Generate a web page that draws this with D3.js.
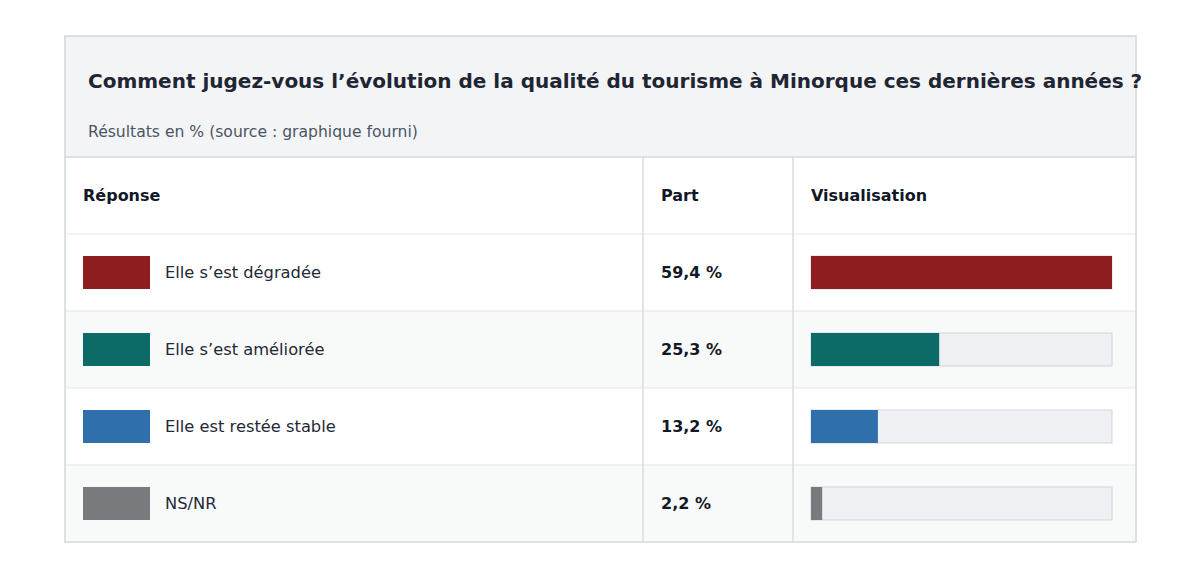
<!DOCTYPE html>
<html lang="fr">
<head>
<meta charset="UTF-8">
<title>Qualité du tourisme à Minorque</title>
<script src="https://cdnjs.cloudflare.com/ajax/libs/d3/7.8.5/d3.min.js"></script>
<style>
    html, body { margin: 0; padding: 0; background: #ffffff; }
    svg { display: block; font-family: "DejaVu Sans", sans-serif; }
</style>
</head>
<body>
<svg id="chart" width="1200" height="578"></svg>
<script>
    const title = "Comment jugez-vous l\u2019évolution de la qualité du tourisme à Minorque ces dernières années ?";
    const subtitle = "Résultats en % (source : graphique fourni)";
    const headers = ["Réponse", "Part", "Visualisation"];
    const answers = ["Elle s\u2019est dégradée", "Elle s\u2019est améliorée", "Elle est restée stable", "NS/NR"];
    const shares = [59.4, 25.3, 13.2, 2.2];
    const colors = ["#8e1d20", "#0c6b67", "#2f6fac", "#797a7e"];

    const svg = d3.select("#chart");
    const box = { x0: 65, x1: 1136, y0: 36, headEnd: 157, y1: 542 };
    const cols = [65, 643, 793, 1136];
    const fmt = v => v.toFixed(1).replace(".", ",") + " %";

    // rows: header row + one per answer
    const y = d3.scaleBand()
        .domain(d3.range(answers.length + 1))
        .range([box.headEnd, box.y1]);

    // bar length scale, longest bar fills the track
    const x = d3.scaleLinear()
        .domain([0, d3.max(shares)])
        .range([0, 301]);

    // header band
    svg.append("rect")
        .attr("x", box.x0).attr("y", box.y0)
        .attr("width", box.x1 - box.x0).attr("height", box.headEnd - box.y0)
        .attr("fill", "#f3f4f6");

    // row backgrounds
    svg.selectAll("rect.rowbg")
        .data(d3.range(answers.length + 1))
        .enter().append("rect")
        .attr("class", "rowbg")
        .attr("x", box.x0).attr("y", d => y(d))
        .attr("width", box.x1 - box.x0).attr("height", y.bandwidth())
        .attr("fill", d => (d > 0 && d % 2 === 0) ? "#f8f9f9" : "#ffffff");

    // horizontal row lines
    svg.selectAll("line.hrow")
        .data(d3.range(1, answers.length + 1))
        .enter().append("line")
        .attr("x1", box.x0).attr("x2", box.x1)
        .attr("y1", d => y(d)).attr("y2", d => y(d))
        .attr("stroke", "#e3e5e9").attr("stroke-width", 1.2);

    // header separator
    svg.append("line")
        .attr("x1", box.x0).attr("x2", box.x1)
        .attr("y1", box.headEnd).attr("y2", box.headEnd)
        .attr("stroke", "#d4d7dc").attr("stroke-width", 1.5);

    // column lines
    svg.selectAll("line.vcol")
        .data(cols.slice(1, 3))
        .enter().append("line")
        .attr("x1", d => d).attr("x2", d => d)
        .attr("y1", box.headEnd).attr("y2", box.y1)
        .attr("stroke", "#d8dbe0").attr("stroke-width", 1.5);

    // outer border
    svg.append("rect")
        .attr("x", box.x0).attr("y", box.y0)
        .attr("width", box.x1 - box.x0).attr("height", box.y1 - box.y0)
        .attr("fill", "none")
        .attr("stroke", "#d4d7dc").attr("stroke-width", 1.5);

    // titles
    svg.append("text")
        .attr("x", 88).attr("y", 88)
        .attr("font-size", 20).attr("font-weight", "bold")
        .attr("fill", "#1e2533")
        .text(title);

    svg.append("text")
        .attr("x", 88).attr("y", 137)
        .attr("font-size", 15.6)
        .attr("fill", "#4b5563")
        .text(subtitle);

    // column headers
    svg.selectAll("text.head")
        .data(headers)
        .enter().append("text")
        .attr("class", "head")
        .attr("x", (d, i) => cols[i] + 18)
        .attr("y", y(0) + y.bandwidth() / 2)
        .attr("dy", "0.36em")
        .attr("font-size", 16).attr("font-weight", "bold")
        .attr("fill", "#111827")
        .text(d => d);

    const rows = svg.selectAll("g.row")
        .data(answers)
        .enter().append("g")
        .attr("class", "row")
        .attr("transform", (d, i) => `translate(0,${y(i + 1)})`);

    const mid = y.bandwidth() / 2;

    rows.append("rect")
        .attr("x", 83).attr("y", mid - 16.5)
        .attr("width", 67).attr("height", 33)
        .attr("fill", (d, i) => colors[i]);

    rows.append("text")
        .attr("x", 165).attr("y", mid).attr("dy", "0.36em")
        .attr("font-size", 16.3)
        .attr("fill", "#1f2937")
        .text(d => d);

    rows.append("text")
        .attr("x", 661).attr("y", mid).attr("dy", "0.36em")
        .attr("font-size", 16).attr("font-weight", "bold")
        .attr("fill", "#111827")
        .text((d, i) => fmt(shares[i]));

    // track
    rows.append("rect")
        .attr("x", 811).attr("y", mid - 16.5)
        .attr("width", x.range()[1]).attr("height", 33)
        .attr("fill", "#eef0f4")
        .attr("stroke", "#d1d5db").attr("stroke-width", 1);

    // bar
    rows.append("rect")
        .attr("x", 811).attr("y", mid - 16.5)
        .attr("width", (d, i) => x(shares[i])).attr("height", 33)
        .attr("fill", (d, i) => colors[i]);
</script>
</body>
</html>
